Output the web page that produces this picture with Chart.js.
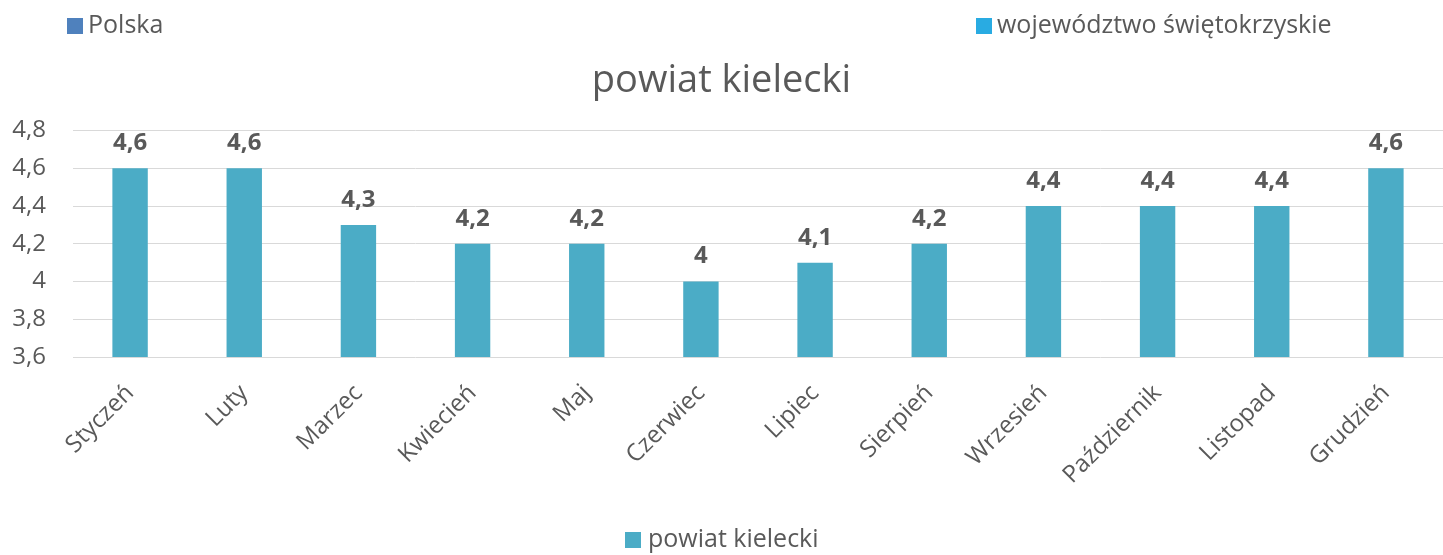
<!DOCTYPE html>
<html>
<head>
<meta charset="utf-8">
<script src="https://cdn.jsdelivr.net/npm/chart.js@4/dist/chart.umd.min.js"></script>
<style>
  html, body { margin: 0; padding: 0; background: #fff; }
  #wrap { width: 1443px; height: 555px; }
</style>
</head>
<body>
<div id="wrap"><canvas id="c" width="1443" height="555"></canvas></div>
<script>
const categories = ["Styczeń", "Luty", "Marzec", "Kwiecień", "Maj", "Czerwiec", "Lipiec", "Sierpień", "Wrzesień", "Październik", "Listopad", "Grudzień"];
const polskaValues = [null, null, null, null, null, null, null, null, null, null, null, null];
const wojewodztwoValues = [null, null, null, null, null, null, null, null, null, null, null, null];
const powiatValues = [4.6, 4.6, 4.3, 4.2, 4.2, 4.0, 4.1, 4.2, 4.4, 4.4, 4.4, 4.6];
const seriesNames = ["Polska", "województwo świętokrzyskie", "powiat kielecki"];
const yTicks = [3.6, 3.8, 4.0, 4.2, 4.4, 4.6, 4.8];
const chartTitle = "powiat kielecki";

const FONT = "'Open Sans', 'Noto Sans', sans-serif";
const GRAY = "#595959";
const fmt = v => (Math.round(v * 10) / 10).toString().replace('.', ',');

const legends = {
  id: 'legends',
  afterDraw(chart) {
    const ctx = chart.ctx;
    const pos = [
      { box: 67, text: 88, y: 26 },
      { box: 976, text: 997, y: 26 },
      { box: 625, text: 648, y: 540 }
    ];
    ctx.save();
    ctx.font = "25px " + FONT;
    ctx.textBaseline = 'middle';
    ctx.textAlign = 'left';
    chart.data.datasets.forEach((ds, i) => {
      ctx.fillStyle = ds.backgroundColor;
      ctx.fillRect(pos[i].box, pos[i].y - 8, 16, 16);
      ctx.fillStyle = GRAY;
      ctx.fillText(ds.label, pos[i].text, pos[i].y);
    });
    ctx.restore();
  }
};

const dataLabels = {
  id: 'dataLabels',
  afterDatasetsDraw(chart) {
    const ctx = chart.ctx;
    const meta = chart.getDatasetMeta(2);
    const ds = chart.data.datasets[2];
    ctx.save();
    ctx.font = "bold 24px " + FONT;
    ctx.fillStyle = GRAY;
    ctx.textAlign = 'center';
    ctx.textBaseline = 'middle';
    meta.data.forEach((bar, i) => {
      const v = ds.data[i];
      if (v == null) return;
      ctx.fillText(fmt(v), bar.x, bar.y - 25);
    });
    ctx.restore();
  }
};

new Chart(document.getElementById('c'), {
  type: 'bar',
  data: {
    labels: categories,
    datasets: [
      { label: seriesNames[0], data: polskaValues, backgroundColor: '#4F81BD' },
      { label: seriesNames[1], data: wojewodztwoValues, backgroundColor: '#29ABE2' },
      { label: seriesNames[2], data: powiatValues, backgroundColor: '#4BACC6' }
    ]
  },
  options: {
    responsive: false,
    animation: false,
    devicePixelRatio: 1,
    layout: { padding: { top: 0, right: 0, bottom: 0, left: 0 } },
    datasets: { bar: { grouped: false, barPercentage: 0.31, categoryPercentage: 1.0 } },
    plugins: {
      title: {
        display: true,
        text: chartTitle,
        color: GRAY,
        font: { family: FONT, size: 38, weight: 'normal' },
        padding: { top: 58, bottom: 27 }
      },
      legend: { display: false },
      tooltip: { enabled: false }
    },
    scales: {
      x: {
        grid: { display: false },
        border: { display: false },
        ticks: {
          color: GRAY,
          font: { family: FONT, size: 24 },
          minRotation: 45,
          maxRotation: 45,
          padding: 14
        },
        afterFit(scale) { scale.height = 198; }
      },
      y: {
        min: 3.6,
        max: 4.8,
        afterBuildTicks(scale) { scale.ticks = yTicks.map(v => ({ value: v })); },
        grid: { color: '#D9D9D9', lineWidth: 1, drawTicks: false },
        border: { display: false },
        ticks: {
          color: GRAY,
          font: { family: FONT, size: 24 },
          padding: 27,
          callback: (v) => fmt(v)
        },
        afterFit(scale) { scale.width = 73; }
      }
    }
  },
  plugins: [legends, dataLabels]
});
</script>
</body>
</html>
